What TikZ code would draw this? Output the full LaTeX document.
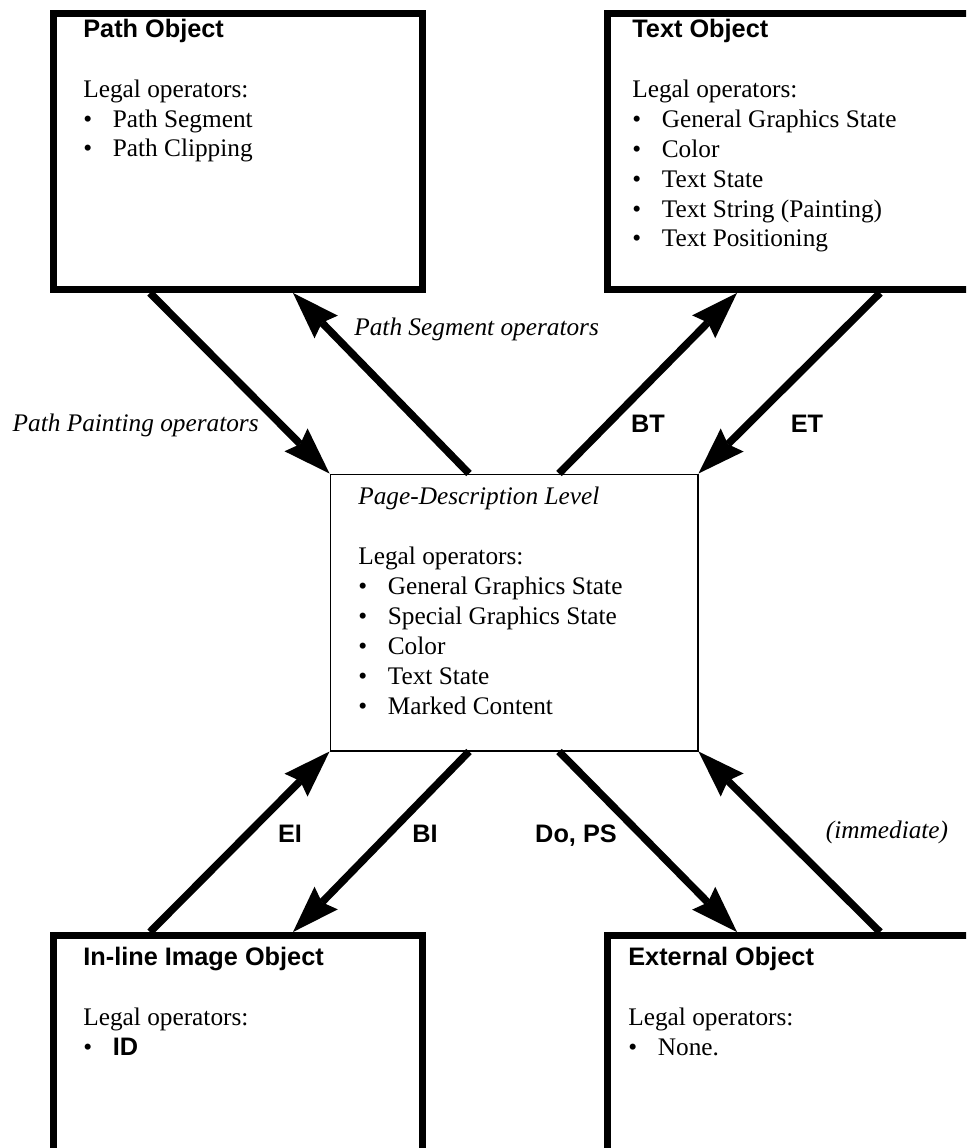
\documentclass[tikz,border=0pt]{standalone}
\usepackage{fontspec}
\setmainfont{Liberation Serif}
\setsansfont{Liberation Sans}
\usetikzlibrary{arrows.meta}

\newcommand{\opitem}[1]{\makebox[0.59cm][l]{\textbullet}#1}
\newcommand{\objhead}[1]{{\sffamily\bfseries #1}}

\tikzset{
  objbox/.style={draw, line width=0.14cm, minimum width=7.38cm, minimum height=5.52cm, inner sep=0pt},
  pagebox/.style={draw, line width=0.6pt, minimum width=7.36cm, minimum height=5.54cm, inner sep=0pt},
  boxtext/.style={anchor=base west, align=left, inner sep=0pt, font=\fontsize{14.4}{17.07}\selectfont},
  itlabel/.style={inner sep=0pt, font=\fontsize{14.4}{17.07}\selectfont\itshape},
  bflabel/.style={inner sep=0pt, font=\fontsize{14.4}{17.07}\selectfont\sffamily\bfseries},
  flow/.style={line width=0.15cm, -{Stealth[length=0.95cm, width=0.65cm, inset=0.12cm, line width=0pt]}}
}

\begin{document}
\begin{tikzpicture}[x=0.02cm, y=-0.02cm]
    \useasboundingbox (0,0) rectangle (966,1148);
    \clip (0,0) rectangle (966,1148);
    \node[objbox] (pathobj) at (238,151.5) {};
    \node[objbox] (textobj) at (792,151.5) {};
    \node[pagebox] (page) at (514,612.5) {};
    \node[objbox] (inlineobj) at (238,1073.5) {};
    \node[objbox] (extobj) at (792,1073.5) {};
    % base anchor sits on the last line
    \node[boxtext] (pathtext) at (83,157) {\objhead{Path Object}\\[0.6cm] Legal operators:\\ \opitem{Path Segment}\\ \opitem{Path Clipping}};
    \node[boxtext] (texttext) at (632,247) {\objhead{Text Object}\\[0.6cm] Legal operators:\\ \opitem{General Graphics State}\\ \opitem{Color}\\ \opitem{Text State}\\ \opitem{Text String (Painting)}\\ \opitem{Text Positioning}};
    \node[boxtext] (pagetext) at (358,714) {\textit{Page-Description Level}\\[0.6cm] Legal operators:\\ \opitem{General Graphics State}\\ \opitem{Special Graphics State}\\ \opitem{Color}\\ \opitem{Text State}\\ \opitem{Marked Content}};
    \node[boxtext] (inlinetext) at (83,1055) {\objhead{In-line Image Object}\\[0.6cm] Legal operators:\\ \opitem{\objhead{ID}}};
    \node[boxtext] (exttext) at (628,1055) {\objhead{External Object}\\[0.6cm] Legal operators:\\ \opitem{None.}};
    \draw[flow] ([xshift=-1.76cm]pathobj.south) -- (page.north west);
    \draw[flow] ([xshift=-0.9cm]page.north) -- ([xshift=1.1cm]pathobj.south);
    \draw[flow] ([xshift=0.9cm]page.north) -- ([xshift=-1.1cm]textobj.south);
    \draw[flow] ([xshift=1.76cm]textobj.south) -- (page.north east);
    \draw[flow] ([xshift=-1.76cm]inlineobj.north) -- (page.south west);
    \draw[flow] ([xshift=-0.9cm]page.south) -- ([xshift=1.1cm]inlineobj.north);
    \draw[flow] ([xshift=0.9cm]page.south) -- ([xshift=-1.1cm]extobj.north);
    \draw[flow] ([xshift=1.76cm]extobj.north) -- (page.south east);
    \node[itlabel, anchor=base east] (paintlbl) at (259,431) {Path Painting operators};
    \node[itlabel, anchor=base west] (seglbl) at (354,336) {Path Segment operators};
    \node[bflabel, anchor=base] (btlbl) at (648,432) {BT};
    \node[bflabel, anchor=base] (etlbl) at (807,432) {ET};
    \node[bflabel, anchor=base] (eilbl) at (290,842) {EI};
    \node[bflabel, anchor=base] (bilbl) at (425,842) {BI};
    \node[bflabel, anchor=base] (dopslbl) at (576,842) {Do, PS};
    \node[itlabel, anchor=base] (immlbl) at (887,838) {(immediate)};
\end{tikzpicture}
\end{document}
